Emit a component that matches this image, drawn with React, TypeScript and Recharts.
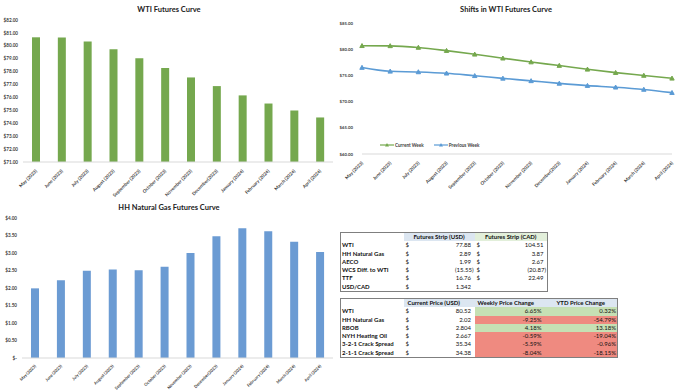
import React from 'react';
import {
  BarChart,
  Bar,
  LineChart,
  Line,
  XAxis,
  YAxis,
  Legend,
} from 'recharts';

const months = [
  'May (2023)',
  'June (2023)',
  'July (2023)',
  'August (2023)',
  'September (2023)',
  'October (2023)',
  'November (2023)',
  'December(2023)',
  'January (2024)',
  'February (2024)',
  'March (2024)',
  'April (2024)',
];
const currentWeek = [80.66, 80.64, 80.33, 79.73, 79.03, 78.28, 77.55, 76.88, 76.16, 75.53, 74.99, 74.45];
const previousWeek = [76.5, 75.78, 75.66, 75.41, 74.93, 74.44, 73.96, 73.47, 73.05, 72.74, 72.32, 71.71];
const hhPrices = [1.99, 2.22, 2.49, 2.53, 2.51, 2.61, 3.0, 3.48, 3.71, 3.62, 3.32, 3.03];

const wtiTicks = [71, 72, 73, 74, 75, 76, 77, 78, 79, 80, 81, 82];
const shiftTicks = [60, 65, 70, 75, 80, 85];
const hhTicks = [0, 0.5, 1, 1.5, 2, 2.5, 3, 3.5, 4];

const stripLabels = ['WTI', 'HH Natural Gas', 'AECO', 'WCS Diff. to WTI', 'TTF', 'USD/CAD'];
const stripUsd = ['77.88', '2.89', '1.99', '(15.55)', '16.76', '1.342'];
const stripCad = ['104.51', '3.87', '2.67', '(20.87)', '22.49', ''];

const priceLabels = ['WTI', 'HH Natural Gas', 'RBOB', 'NYH Heating Oil', '3-2-1 Crack Spread', '2-1-1 Crack Spread'];
const currentPrice = ['80.52', '2.02', '2.804', '2.667', '35.34', '34.38'];
const weeklyChange = [6.65, -9.25, 4.18, -0.59, -5.59, -8.04];
const ytdChange = [0.32, -54.79, 13.18, -19.04, -0.96, -18.15];

const GREEN = '#75a84e';
const BLUE = '#6b9bd3';
const LINE_BLUE = '#5b9bd5';
const TEXT = '#404040';
const FONT = 'Lato, "Open Sans", sans-serif';
const UP_FILL = '#c6e0b4';
const DOWN_FILL = '#ef8a80';

const data = months.map((m, i) => ({
  month: m,
  current: currentWeek[i],
  previous: previousWeek[i],
  hh: hhPrices[i],
}));

const money = (v: number) => (v === 0 ? '$-' : `$${v.toFixed(2)}`);

const MonthTick = (props: any) => {
  const { x, y, payload, size = 4.6 } = props;
  return (
    <g transform={`translate(${x},${y})`}>
      <text
        transform="rotate(-45)"
        textAnchor="end"
        x={0}
        y={0}
        dy={2}
        fontSize={size}
        fontWeight={700}
        fill={TEXT}
        fontFamily={FONT}
      >
        {payload.value}
      </text>
    </g>
  );
};

const Triangle = (props: any) => {
  const { cx, cy, stroke, index } = props;
  if (cx == null || cy == null) return null;
  return (
    <polygon
      key={index}
      points={`${cx},${cy - 2.2} ${cx - 2.2},${cy + 1.8} ${cx + 2.2},${cy + 1.8}`}
      fill={stroke}
      stroke={stroke}
    />
  );
};

const LineLegend = (props: any) => {
  const { payload } = props;
  return (
    <div style={{ display: 'flex', gap: 10, fontFamily: FONT, fontSize: 4.6, fontWeight: 700, color: TEXT }}>
      {payload.map((p: any) => (
        <div key={p.value} style={{ display: 'flex', alignItems: 'center', gap: 1 }}>
          <svg width={14} height={6}>
            <line x1={0} y1={3} x2={14} y2={3} stroke={p.color} strokeWidth={1.2} />
            <polygon points="7,1 5,4.6 9,4.6" fill={p.color} />
          </svg>
          <span>{p.value}</span>
        </div>
      ))}
    </div>
  );
};

const title = (text: string, left: number, top: number, width: number) => (
  <div
    style={{
      position: 'absolute',
      left,
      top,
      width,
      textAlign: 'center',
      fontFamily: FONT,
      fontWeight: 700,
      fontSize: 7.5,
      lineHeight: '10px',
      color: '#222',
    }}
  >
    {text}
  </div>
);

const yTickStyle = { fontSize: 4.6, fontWeight: 700, fill: TEXT, fontFamily: FONT };

const cell = (extra: React.CSSProperties = {}): React.CSSProperties => ({
  height: 8.3,
  padding: 0,
  fontSize: 6,
  lineHeight: '8.3px',
  whiteSpace: 'nowrap',
  overflow: 'hidden',
  ...extra,
});

const Dollar = ({ value }: { value: string }) => (
  <div style={{ display: 'flex', justifyContent: 'space-between', paddingLeft: 2, paddingRight: value.startsWith('(') ? 1 : 3.5 }}>
    <span>$</span>
    <span>{value}</span>
  </div>
);

const pct = (v: number) => `${v.toFixed(2)}%`;

export default function App() {
  return (
    <div
      style={{
        position: 'absolute',
        left: 0,
        top: 0,
        width: 679,
        height: 390,
        background: '#fff',
        fontFamily: FONT,
        color: '#111',
        overflow: 'hidden',
      }}
    >
      {/* WTI futures bars */}
      {title('WTI Futures Curve', 69, 5, 200)}
      <div style={{ position: 'absolute', left: 0, top: 0 }}>
        <BarChart width={340} height={200} data={data} margin={{ top: 20, right: 7, left: 0, bottom: 0 }} style={{ overflow: 'visible' }}>
          <XAxis dataKey="month" interval={0} height={38} tickLine={false} axisLine={{ stroke: '#d9d9d9' }} tick={<MonthTick />} tickMargin={2} />
          <YAxis
            width={23}
            domain={[71, 82]}
            ticks={wtiTicks}
            interval={0}
            tickFormatter={money}
            tickLine={false}
            axisLine={false}
            tickSize={0}
            tickMargin={5}
            tick={yTickStyle}
          />
          <Bar dataKey="current" fill={GREEN} barSize={8} isAnimationActive={false} />
        </BarChart>
      </div>

      {/* Shifts line chart */}
      {title('Shifts in WTI Futures Curve', 406, 5, 200)}
      <div style={{ position: 'absolute', left: 334, top: 0 }}>
        <LineChart width={345} height={200} data={data} margin={{ top: 23, right: 7, left: 0, bottom: 0 }} style={{ overflow: 'visible' }}>
          <XAxis dataKey="month" interval={0} height={40} tickLine={false} axisLine={{ stroke: '#d9d9d9' }} tick={<MonthTick />} tickMargin={2} />
          <YAxis
            width={28}
            domain={[60, 85]}
            ticks={shiftTicks}
            interval={0}
            tickFormatter={money}
            tickLine={false}
            axisLine={false}
            tickSize={0}
            tickMargin={9}
            tick={{ ...yTickStyle, fontSize: 4.3 }}
          />
          <Legend content={<LineLegend />} wrapperStyle={{ position: 'absolute', left: 46, top: 142, width: 150 }} />
          <Line
            type="monotone"
            dataKey="current"
            name="Current Week"
            stroke={GREEN}
            strokeWidth={1.6}
            dot={<Triangle />}
            isAnimationActive={false}
          />
          <Line
            type="monotone"
            dataKey="previous"
            name="Previous Week"
            stroke={LINE_BLUE}
            strokeWidth={1.6}
            dot={<Triangle />}
            isAnimationActive={false}
          />
        </LineChart>
      </div>

      {/* HH natural gas bars */}
      {title('HH Natural Gas Futures Curve', 69, 203, 200)}
      <div style={{ position: 'absolute', left: 0, top: 195 }}>
        <BarChart width={340} height={195} data={data} margin={{ top: 23, right: 7, left: 0, bottom: 0 }} style={{ overflow: 'visible' }}>
          <XAxis dataKey="month" interval={0} height={32} tickLine={false} axisLine={{ stroke: '#d9d9d9' }} tick={<MonthTick size={4.2} />} tickMargin={1} />
          <YAxis
            width={22}
            domain={[0, 4]}
            ticks={hhTicks}
            interval={0}
            tickFormatter={money}
            tickLine={false}
            axisLine={false}
            tickSize={0}
            tickMargin={5}
            tick={yTickStyle}
          />
          <Bar dataKey="hh" fill={BLUE} barSize={8} isAnimationActive={false} />
        </BarChart>
      </div>

      {/* Futures strip table */}
      <table
        style={{
          position: 'absolute',
          left: 340,
          top: 232,
          width: 207,
          borderCollapse: 'collapse',
          tableLayout: 'fixed',
          border: '1px solid #7f7f7f',
        }}
      >
        <colgroup>
          <col style={{ width: 63 }} />
          <col style={{ width: 71 }} />
          <col style={{ width: 73 }} />
        </colgroup>
        <tbody>
          <tr>
            <td style={cell()} />
            <td style={cell({ background: '#dce6f1', fontWeight: 700, textAlign: 'center' })}>Futures Strip (USD)</td>
            <td style={cell({ background: '#e2efda', fontWeight: 700, textAlign: 'center' })}>Futures Strip (CAD)</td>
          </tr>
          {stripLabels.map((label, i) => (
            <tr key={label}>
              <td style={cell({ fontWeight: 700, paddingLeft: 1 })}>{label}</td>
              <td style={cell()}>
                <Dollar value={stripUsd[i]} />
              </td>
              <td style={cell()}>{stripCad[i] ? <Dollar value={stripCad[i]} /> : null}</td>
            </tr>
          ))}
        </tbody>
      </table>

      {/* Price change table */}
      <table
        style={{
          position: 'absolute',
          left: 340,
          top: 298,
          width: 277,
          borderCollapse: 'collapse',
          tableLayout: 'fixed',
          border: '1px solid #7f7f7f',
        }}
      >
        <colgroup>
          <col style={{ width: 63 }} />
          <col style={{ width: 71 }} />
          <col style={{ width: 70 }} />
          <col style={{ width: 73 }} />
        </colgroup>
        <tbody>
          <tr>
            <td style={cell()} />
            <td style={cell({ background: '#dce6f1', fontWeight: 700, paddingLeft: 4 })}>Current Price (USD)</td>
            <td style={cell({ background: '#dce6f1', fontWeight: 700, paddingLeft: 3 })}>Weekly Price Change</td>
            <td style={cell({ background: '#dce6f1', fontWeight: 700, textAlign: 'center' })}>YTD Price Change</td>
          </tr>
          {priceLabels.map((label, i) => (
            <tr key={label}>
              <td style={cell({ fontWeight: 700, paddingLeft: 1 })}>{label}</td>
              <td style={cell()}>
                <Dollar value={currentPrice[i]} />
              </td>
              <td style={cell({ background: weeklyChange[i] >= 0 ? UP_FILL : DOWN_FILL, textAlign: 'right', paddingRight: 3 })}>
                {pct(weeklyChange[i])}
              </td>
              <td style={cell({ background: ytdChange[i] >= 0 ? UP_FILL : DOWN_FILL, textAlign: 'right', paddingRight: 1 })}>
                {pct(ytdChange[i])}
              </td>
            </tr>
          ))}
        </tbody>
      </table>
    </div>
  );
}
